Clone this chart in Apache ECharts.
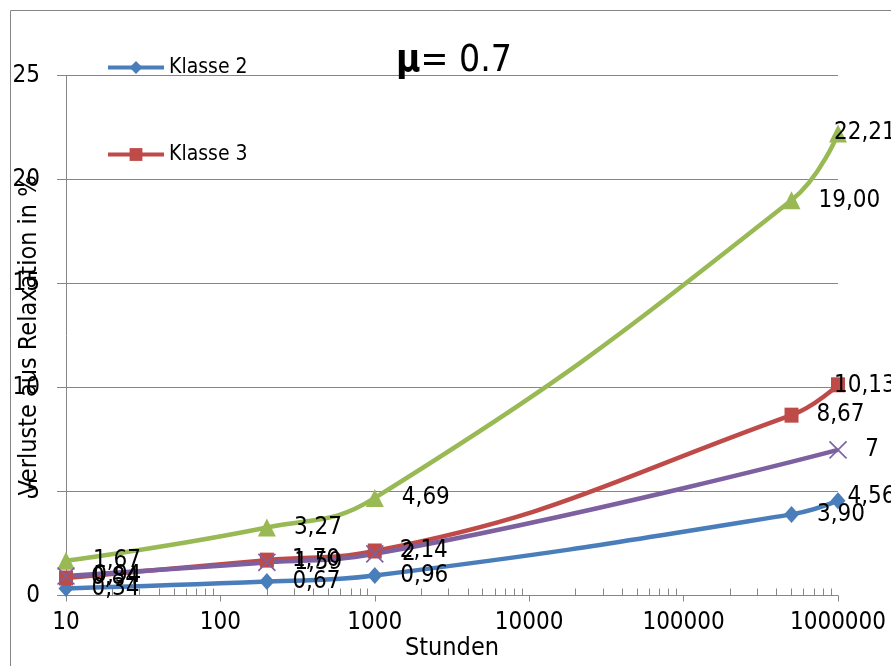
<!DOCTYPE html>
<html>
<head>
<meta charset="utf-8">
<script src="https://cdn.jsdelivr.net/npm/echarts@6/dist/echarts.min.js"></script>
<style>
  html, body { margin: 0; padding: 0; background: #ffffff; }
  #chart { width: 891px; height: 666px; }
</style>
</head>
<body>
<div id="chart"></div>
<script>
// Hours of exposure (log scale) and relaxation losses in percent
const hours = [10, 200, 1000, 500000, 1000000];
const klasse2 = [0.34, 0.67, 0.96, 3.90, 4.56];
const klasse3 = [0.84, 1.70, 2.14, 8.67, 10.13];
const klasse1 = [1.67, 3.27, 4.69, 19.00, 22.21];
const reihe4Hours = [10, 200, 1000, 1000000];
const reihe4 = [0.94, 1.59, 2, 7];

const xTickLabels = ['10', '100', '1000', '10000', '100000', '1000000'];
const yTickLabels = ['0', '5', '10', '15', '20', '25'];

const FONT = '"DejaVu Sans Condensed", "Liberation Sans Narrow", "Liberation Sans", Arial, sans-serif';
const GRAY = '#868686';
const C_BLUE = '#4A7EBB';
const C_RED = '#BE4B48';
const C_GREEN = '#98B954';
const C_PURPLE = '#7D60A0';

const PLOT_TOP = 75.5;
const PLOT_BOTTOM = 70.5;

// German decimal comma
const fixed2 = v => v.toFixed(2).replace('.', ',');
const plain = v => String(v).replace('.', ',');

function points(xs, ys, overrides) {
  return ys.map((y, i) => {
    const item = { value: [xs[i], y] };
    if (overrides && overrides[i]) item.label = overrides[i];
    return item;
  });
}

function lineSeries(name, color, symbol, size, data, fmt, extra) {
  return Object.assign({
    name: name,
    type: 'line',
    smooth: 0.45,
    data: data,
    symbol: symbol,
    symbolSize: size,
    showAllSymbol: true,
    lineStyle: { color: color, width: 4.5 },
    itemStyle: { color: color },
    label: {
      show: true,
      position: 'right',
      distance: 18,
      color: '#000',
      fontFamily: FONT,
      fontSize: 24,
      formatter: p => fmt(p.value[1])
    },
    emphasis: { disabled: true },
    animation: false
  }, extra || {});
}

const chart = echarts.init(document.getElementById('chart'), null, { renderer: 'canvas' });

const option = {
  backgroundColor: '#ffffff',
  animation: false,
  title: {
    text: '{mu|μ}{n|= 0.7}',
    left: 391,
    top: 38,
    textStyle: {
      rich: {
        mu: { fontFamily: FONT, fontSize: 37, fontWeight: 'bold', color: '#000' },
        n: { fontFamily: FONT, fontSize: 37, fontWeight: 'normal', color: '#000' }
      }
    }
  },
  legend: {
    data: ['Klasse 2', 'Klasse 3'],
    orient: 'vertical',
    left: 101,
    top: 50,
    itemGap: 62,
    itemWidth: 56,
    itemHeight: 16,
    lineStyle: { width: 4 },
    textStyle: { fontFamily: FONT, fontSize: 21, color: '#000', lineHeight: 25 }
  },
  grid: {
    left: 66,
    right: 53,
    top: PLOT_TOP,
    bottom: PLOT_BOTTOM,
    containLabel: false,
    outerBoundsMode: 'none'
  },
  xAxis: [
    {
      type: 'log',
      logBase: 10,
      min: 10,
      max: 1000000,
      name: 'Stunden',
      nameLocation: 'middle',
      nameGap: 40,
      nameMoveOverlap: false,
      nameTextStyle: { fontFamily: FONT, fontSize: 25, color: '#000' },
      axisLine: { show: true, lineStyle: { color: GRAY, width: 1 } },
      axisTick: { show: true, length: 6, lineStyle: { color: GRAY } },
      splitLine: { show: false },
      axisLabel: {
        margin: 15,
        fontFamily: FONT,
        fontSize: 24,
        color: '#000',
        formatter: (v, i) => xTickLabels[i]
      }
    },
    {
      // minor log ticks; a top axis moved down onto the bottom edge so they point upward
      type: 'log',
      logBase: 10,
      min: 10,
      max: 1000000,
      position: 'top',
      offset: -(666 - PLOT_TOP - PLOT_BOTTOM),
      axisLine: { show: false },
      axisTick: { show: false },
      minorTick: { show: true, splitNumber: 9, length: 7, lineStyle: { color: GRAY } },
      axisLabel: { show: false },
      splitLine: { show: false }
    }
  ],
  yAxis: {
    type: 'value',
    min: 0,
    max: 25,
    interval: 5,
    name: 'Verluste aus Relaxation in %',
    nameLocation: 'middle',
    nameRotate: 90,
    nameGap: 24,
    nameMoveOverlap: false,
    nameTextStyle: { fontFamily: FONT, fontSize: 25, color: '#000' },
    axisLine: { show: true, lineStyle: { color: GRAY, width: 1 } },
    axisTick: { show: true, length: 9, lineStyle: { color: GRAY } },
    splitLine: { show: true, lineStyle: { color: GRAY, width: 1 } },
    axisLabel: {
      margin: 26,
      fontFamily: FONT,
      fontSize: 24,
      color: '#000',
      formatter: (v, i) => yTickLabels[i]
    }
  },
  graphic: [
    {
      type: 'rect',
      silent: true,
      shape: { x: 10.5, y: 10.5, width: 1200, height: 1200 },
      style: { fill: 'none', stroke: GRAY, lineWidth: 1 },
      z: -1
    }
  ],
  series: [
    lineSeries('Klasse 2', C_BLUE, 'diamond', [15, 17],
      points(hours, klasse2, { 4: { offset: [-16, -4] } }), fixed2),
    lineSeries('Klasse 3', C_RED, 'rect', [14, 15],
      points(hours, klasse3, { 4: { offset: [-29, 1] } }), fixed2),
    lineSeries('Klasse 1', C_GREEN, 'triangle', 18,
      points(hours, klasse1, { 4: { offset: [-31, -1] } }), fixed2),
    lineSeries('Reihe 4', C_PURPLE, 'path://M0,0L10,10M10,0L0,10', 17,
      points(reihe4Hours, reihe4), plain,
      { itemStyle: { color: C_PURPLE, borderColor: C_PURPLE, borderWidth: 1.6 } })
  ]
};

chart.setOption(option);
</script>
</body>
</html>
